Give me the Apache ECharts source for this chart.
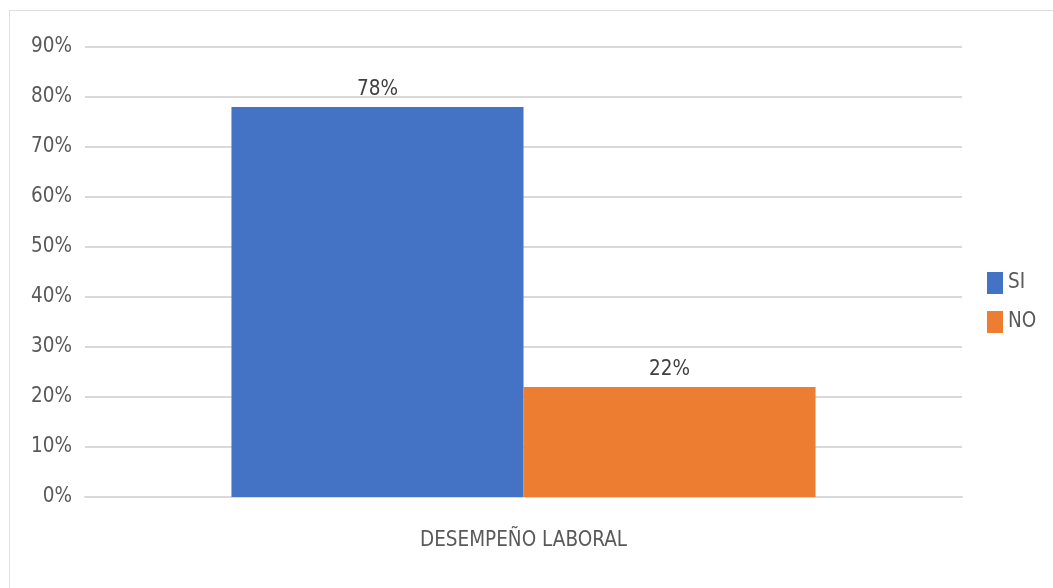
<!DOCTYPE html>
<html>
<head>
<meta charset="utf-8">
<script src="https://cdn.jsdelivr.net/npm/echarts@6/dist/echarts.min.js"></script>
<style>
html,body{margin:0;padding:0;background:#fff;}
#frame{position:absolute;left:9px;top:10px;width:1100px;height:640px;border:1px solid #e0e0e0;box-sizing:border-box;}
#chart{position:absolute;left:0;top:0;width:1053px;height:588px;}
</style>
</head>
<body>
<div id="frame"></div>
<div id="chart"></div>
<script>
const categories = ['DESEMPEÑO LABORAL'];
const seriesNames = ['SI', 'NO'];
const siValues = [78];
const noValues = [22];
const colors = ['#4472C4', '#ED7D31'];
const fontFam = "'Liberation Sans Narrow','DejaVu Sans Condensed',sans-serif";
const fs = 20.5;

const chart = echarts.init(document.getElementById('chart'));
chart.setOption({
  animation: false,
  textStyle: {fontFamily: fontFam},
  grid: {left: 85, right: 91, top: 47, bottom: 91, containLabel: false},
  legend: {
    orient: 'vertical', left: 982, top: 267,
    itemWidth: 16, itemHeight: 22, itemGap: 17,
    icon: 'rect',
    textStyle: {fontFamily: fontFam, fontSize: fs, color: '#595959', padding: [2,0,0,0]},
    data: seriesNames
  },
  xAxis: {
    type: 'category', data: categories,
    axisLine: {lineStyle: {color: '#d9d9d9', width: 2}},
    axisTick: {show: false},
    axisLabel: {fontFamily: fontFam, fontSize: fs, color: '#595959', margin: 33}
  },
  yAxis: {
    type: 'value', min: 0, max: 90, interval: 10,
    axisLine: {show: false}, axisTick: {show: false},
    axisLabel: {formatter: '{value}%', fontFamily: fontFam, fontSize: fs, color: '#595959', margin: 13},
    splitLine: {lineStyle: {color: '#d9d9d9', width: 2}}
  },
  series: [
    {name: seriesNames[0], type: 'bar', data: siValues, itemStyle: {color: colors[0]},
     barGap: '0%', barCategoryGap: '33.4%',
     label: {show: true, position: 'top', distance: 7, formatter: '{c}%', fontFamily: fontFam, fontSize: fs, color: '#404040'}},
    {name: seriesNames[1], type: 'bar', data: noValues, itemStyle: {color: colors[1]},
     barGap: '0%', barCategoryGap: '33.4%',
     label: {show: true, position: 'top', distance: 7, formatter: '{c}%', fontFamily: fontFam, fontSize: fs, color: '#404040'}}
  ]
});
</script>
</body>
</html>
